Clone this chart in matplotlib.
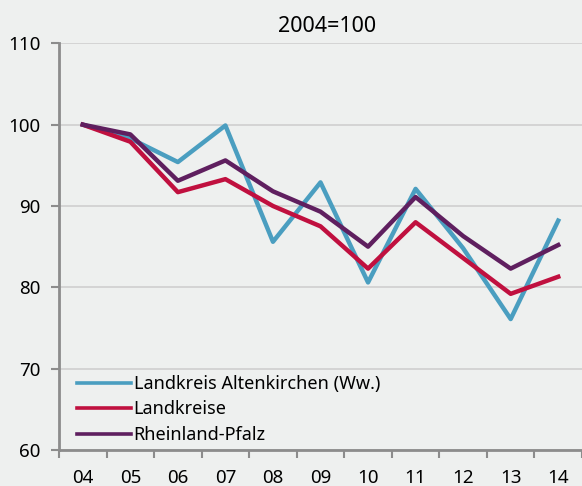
import matplotlib.pyplot as plt
import numpy as np

plt.rcParams['font.family'] = ['Noto Sans', 'DejaVu Sans']

years = ['04', '05', '06', '07', '08', '09', '10', '11', '12', '13', '14']
altenkirchen = [100.0, 98.3, 95.4, 99.9, 85.6, 92.9, 80.6, 92.1, 84.8, 76.1, 88.2]
landkreise = [100.0, 97.9, 91.7, 93.3, 90.0, 87.5, 82.3, 88.0, 83.6, 79.2, 81.3]
rlp = [100.0, 98.8, 93.1, 95.6, 91.8, 89.3, 85.0, 91.1, 86.3, 82.3, 85.2]

bg = '#eef0ef'
spine_col = '#8c8c8c'

fig = plt.figure(figsize=(5.82, 4.86), dpi=100, facecolor=bg)
ax = fig.add_axes([59 / 582, 36 / 486, 523 / 582, (450 - 43.3) / 486])
ax.set_facecolor(bg)

x = np.arange(len(years))
ax.plot(x, altenkirchen, color='#4a9ec0', lw=3.2, label='Landkreis Altenkirchen (Ww.)')
ax.plot(x, landkreise, color='#c0103f', lw=3.2, label='Landkreise')
ax.plot(x, rlp, color='#5f1f5f', lw=3.2, label='Rheinland-Pfalz')

ax.set_xlim(-0.5, len(years) - 0.5)
ax.set_ylim(60, 110)
ax.set_yticks(range(60, 111, 10))
ax.yaxis.grid(True, color='#d2d2d2', lw=1.3)
ax.set_axisbelow(True)

ax.set_xticks(x)
ax.set_xticklabels(years)
ax.set_xticks(np.arange(-0.5, len(years)), minor=True)
ax.tick_params(axis='x', which='major', length=0, pad=13.5, labelsize=13.5)
ax.tick_params(axis='x', which='minor', length=6, width=1.5, color=spine_col)
ax.tick_params(axis='y', length=6, width=1.5, color=spine_col, labelsize=13.5, pad=7.5)

for s in ['top', 'right']:
    ax.spines[s].set_visible(False)
for s in ['left', 'bottom']:
    ax.spines[s].set_color(spine_col)
    ax.spines[s].set_linewidth(2)

ax.set_title('2004=100', fontsize=15.5, pad=8, x=(327 - 59) / 523)

leg = ax.legend(loc='lower left', bbox_to_anchor=(0.013, -0.012), frameon=False,
                fontsize=13, handlelength=3.0, handletextpad=0.15, labelspacing=0.42,
                borderaxespad=0.2)
for h in leg.get_lines():
    h.set_linewidth(2.6)

fig.savefig('out.png', dpi=100, facecolor=bg)
